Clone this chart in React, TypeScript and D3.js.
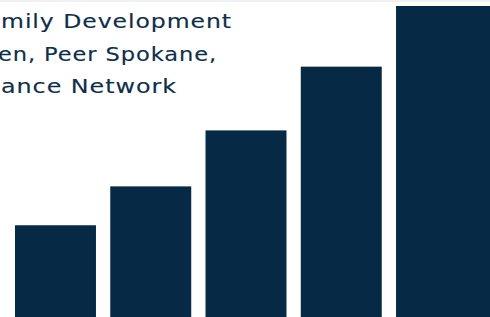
import { useEffect, useRef } from "react"
import * as d3 from "d3"

const categories = ["A", "B", "C", "D", "E"]
const values = [29.5, 42, 60, 80.5, 100]
const titleLines = ["mily Development", "en, Peer Spokane,", "ance Network"]

const W = 490
const H = 317

export default function App() {
  const svgRef = useRef<SVGSVGElement>(null)

  useEffect(() => {
    document.body.style.margin = "0"
    if (!svgRef.current) return
    const svg = d3.select(svgRef.current)
    svg.selectAll("*").remove()

    const x = d3.scaleBand().domain(categories).range([15, 477]).paddingInner(0.15)
    const y = d3.scaleLinear().domain([0, 100]).range([H, 6])

    // thin grey strip along the top
    svg.append("rect").attr("x", 0).attr("y", 0).attr("width", W).attr("height", 2).attr("fill", "#f1f1f1")

    // bars (last one runs off the right edge)
    svg
      .append("g")
      .selectAll("rect")
      .data(values)
      .enter()
      .append("rect")
      .attr("x", (_, i) => x(categories[i])!)
      .attr("y", (d) => y(d))
      .attr("width", (_, i) => (i === values.length - 1 ? W - x(categories[i])! : x.bandwidth()))
      .attr("height", (d) => y(0) - y(d))
      .attr("fill", "#062a45")

    // title, cut off at the left
    const lineX = [1, -2, 1]
    const lineW = [231, 219, 176]
    svg
      .append("g")
      .selectAll("text")
      .data(titleLines)
      .enter()
      .append("text")
      .attr("x", (_, i) => lineX[i])
      .attr("y", (_, i) => 28 + i * 32.5)
      .attr("font-family", "'DejaVu Sans', sans-serif")
      .attr("font-size", "20px")
      .attr("letter-spacing", "0.8px")
      .attr("textLength", (_, i) => lineW[i])
      .attr("lengthAdjust", "spacingAndGlyphs")
      .attr("fill", "#0d2f4a")
      .attr("stroke", "#0d2f4a")
      .attr("stroke-width", 0.15)
      .text((d) => d)
  }, [])

  return <svg ref={svgRef} width={W} height={H} style={{ display: "block" }} />
}
